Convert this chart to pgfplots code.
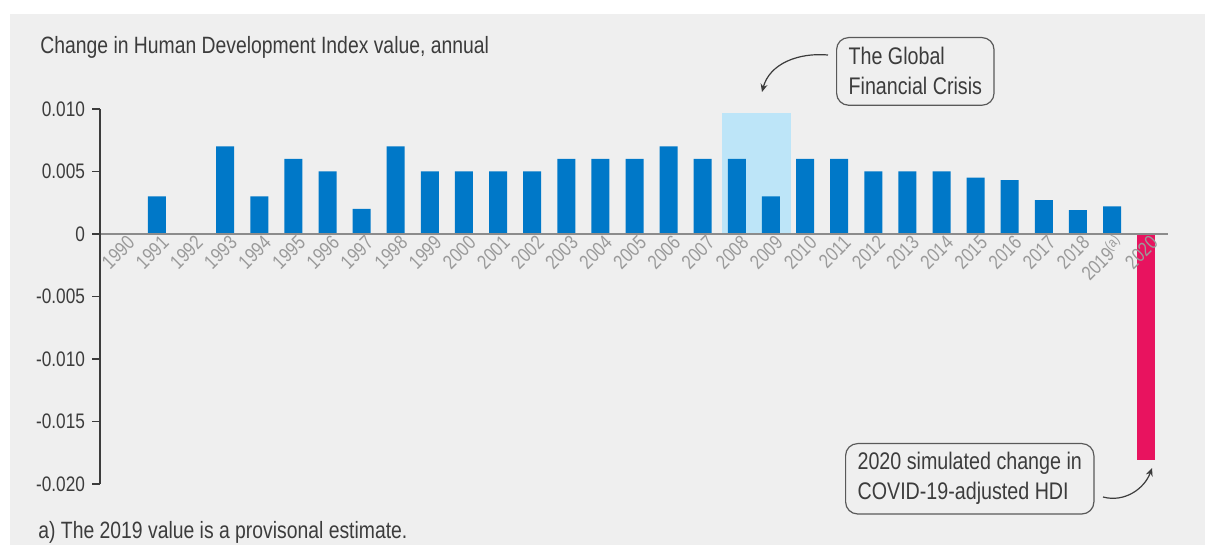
\documentclass[border=0pt]{standalone}
\usepackage{fontspec}
\setmainfont{Liberation Sans}[FakeStretch=0.82]
\usepackage{pgfplots}
\pgfplotsset{compat=1.18}
\usetikzlibrary{arrows.meta}
\definecolor{bg}{HTML}{EFEFEF}
\definecolor{barblue}{HTML}{0078C8}
\definecolor{crisis}{HTML}{BDE5F8}
\definecolor{covid}{HTML}{E8135F}
\definecolor{txt}{HTML}{3C3C3C}
\definecolor{ticklab}{HTML}{9A9A9A}

\begin{document}
\begin{tikzpicture}[x=0.5pt,y=0.5pt]
\useasboundingbox (0,0) rectangle (1205,545);
\fill[bg] (10,0) rectangle (1205,531);
\begin{axis}[
  at={(50pt,30.5pt)}, anchor=south west, scale only axis,
  width=534pt, height=187.5pt,
  xmin=1989.33, xmax=2020.64, ymin=-0.020, ymax=0.010,
  axis y line*=left, axis x line*=middle,
  axis on top,
  x axis line style={draw=gray!90, line width=0.6pt},
  y axis line style={draw=txt, line width=0.6pt},
  xtick={1990,...,2020},
  xticklabels={1990,1991,1992,1993,1994,1995,1996,1997,1998,1999,2000,2001,2002,2003,2004,2005,2006,2007,2008,2009,2010,2011,2012,2013,2014,2015,2016,2017,2018,2019\textsuperscript{(a)},2020},
  xtick style={draw=none},
  xticklabel style={rotate=45, anchor=east, text=ticklab, font=\fontsize{10}{10}\selectfont, inner sep=0pt, xshift=4pt, yshift=-2pt},
  scaled y ticks=false,
  ytick={-0.020,-0.015,-0.010,-0.005,0,0.005,0.010},
  yticklabels={-0.020,-0.015,-0.010,-0.005,0,0.005,0.010},
  yticklabel style={text=txt, font=\fontsize{10.5}{12}\selectfont},
  ytick style={draw=txt, line width=0.6pt},
  tick align=outside, major tick length=4pt,
  clip=false,
]
% crisis highlight
\addplot[fill=crisis, draw=none, mark=none] coordinates {(2007.55,0.0097) (2009.6,0.0097)} \closedcycle;
% annual change
\addplot[ybar, bar width=9pt, bar shift=0pt, fill=barblue, draw=none] coordinates {
(1990,0) (1991,0.003) (1992,0) (1993,0.007) (1994,0.003) (1995,0.006) (1996,0.005)
(1997,0.002) (1998,0.007) (1999,0.005) (2000,0.005) (2001,0.005) (2002,0.005)
(2003,0.006) (2004,0.006) (2005,0.006) (2006,0.007) (2007,0.006) (2008,0.006)
(2009,0.003) (2010,0.006) (2011,0.006) (2012,0.005) (2013,0.005) (2014,0.005)
(2015,0.0045) (2016,0.0043) (2017,0.0027) (2018,0.0019) (2019,0.0022)};
% 2020 simulated
\addplot[ybar, bar width=9pt, bar shift=0pt, fill=covid, draw=none] coordinates {(2020,-0.0181)};
\end{axis}
\node[anchor=base west, inner sep=0pt, text=txt, font=\fontsize{11.8}{13}\selectfont] at (40,491) {Change in Human Development Index value, annual};
\node[anchor=base west, inner sep=0pt, text=txt, font=\fontsize{11.8}{13}\selectfont] at (38,6) {a) The 2019 value is a provisonal estimate.};
\node[draw=txt!85, rounded corners=6pt, line width=0.6pt, anchor=north west, align=left,
  inner xsep=6pt, inner ysep=5pt, text=txt, font=\fontsize{12}{15}\selectfont] at (836,508) {The Global\\Financial Crisis};
\node[draw=txt!85, rounded corners=6pt, line width=0.6pt, anchor=north west, align=left,
  inner xsep=6pt, inner ysep=4.5pt, text=txt, font=\fontsize{12}{15}\selectfont] at (845,102) {2020 simulated change in\\COVID-19-adjusted HDI};
\draw[-{Stealth[length=4pt,width=3.5pt]}, line width=0.6pt, txt] (828,490) to[out=175,in=75] (762,453);
\draw[-{Stealth[length=4pt,width=3.5pt]}, line width=0.6pt, txt] (1103,48) to[out=-15,in=-110] (1152,77);
\end{tikzpicture}
\end{document}
